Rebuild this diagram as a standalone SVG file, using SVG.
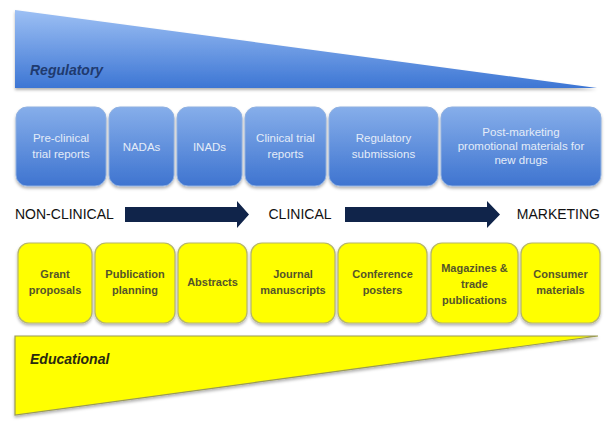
<svg xmlns="http://www.w3.org/2000/svg" width="605" height="423" viewBox="0 0 605 423">
<style>
.bbox{fill:url(#gb);stroke:#8fb0e0;stroke-width:1;filter:url(#sh)}
.ybox{fill:#ffff00;stroke:#b5b56a;stroke-width:1.2;filter:url(#sh)}
.bt{font-family:"Liberation Sans",Arial,sans-serif;font-size:11.5px;fill:#e4ecf8;text-anchor:middle}
.yt{font-family:"Liberation Sans",Arial,sans-serif;font-size:11px;font-weight:bold;fill:#55552a;text-anchor:middle}
.st{font-family:"Liberation Sans",Arial,sans-serif;font-size:14px;fill:#111}
.tt{font-family:"Liberation Sans",Arial,sans-serif;font-size:14px;font-weight:bold;font-style:italic}
.arr{fill:#10244a}
</style>
<defs>
<linearGradient id="gt" x1="0" y1="0" x2="0" y2="1">
<stop offset="0" stop-color="#9dc0f4"/><stop offset="1" stop-color="#3d76d4"/>
</linearGradient>
<linearGradient id="gb" x1="0" y1="0" x2="0" y2="1">
<stop offset="0" stop-color="#86aeea"/><stop offset="1" stop-color="#3e74d0"/>
</linearGradient>
<filter id="sh" x="-10%" y="-10%" width="120%" height="130%">
<feDropShadow dx="0" dy="2" stdDeviation="1.5" flood-color="#000" flood-opacity="0.3"/>
</filter>
</defs>
<rect width="605" height="423" fill="#fff"/>
<g id="regulatory">
<polygon points="15,10 597,88 15,88" fill="url(#gt)" filter="url(#sh)"/>
<text class="tt" x="30" y="75" fill="#1f3a6e">Regulatory</text>
</g>
<g id="educational">
<polygon points="15,336 598,336 15,415" fill="#ffff00" stroke="#9a9a55" stroke-width="1.2" filter="url(#sh)"/>
<text class="tt" x="30" y="364" fill="#2a2a10">Educational</text>
</g>
<g id="b1"><rect class="bbox" x="16" y="107" width="90" height="79" rx="11"/><text class="bt" x="61" y="142">Pre-clinical</text><text class="bt" x="61" y="158">trial reports</text></g>
<g id="b2"><rect class="bbox" x="109" y="107" width="65" height="79" rx="11"/><text class="bt" x="141.5" y="151">NADAs</text></g>
<g id="b3"><rect class="bbox" x="177" y="107" width="65" height="79" rx="11"/><text class="bt" x="209.5" y="151">INADs</text></g>
<g id="b4"><rect class="bbox" x="245" y="107" width="81" height="79" rx="11"/><text class="bt" x="285.5" y="142">Clinical trial</text><text class="bt" x="285.5" y="158">reports</text></g>
<g id="b5"><rect class="bbox" x="329" y="107" width="109" height="79" rx="11"/><text class="bt" x="383.5" y="142">Regulatory</text><text class="bt" x="383.5" y="158">submissions</text></g>
<g id="b6"><rect class="bbox" x="441" y="107" width="160" height="79" rx="11"/><text class="bt" x="521" y="136">Post-marketing</text><text class="bt" x="521" y="150">promotional materials for</text><text class="bt" x="521" y="164">new drugs</text></g>
<g id="stages">
<text class="st" x="15" y="219">NON-CLINICAL</text>
<text class="st" x="300" y="219" text-anchor="middle">CLINICAL</text>
<text class="st" x="600" y="219" text-anchor="end">MARKETING</text>
</g>
<g id="connectors">
<polygon class="arr" points="125,207 237,207 237,201 249,214.5 237,228 237,222 125,222"/>
<polygon class="arr" points="345,207 487,207 487,201 500,214.5 487,228 487,222 345,222"/>
</g>
<g id="y1"><rect class="ybox" x="18" y="243" width="74" height="80" rx="11"/><text class="yt" x="55" y="278">Grant</text><text class="yt" x="55" y="294">proposals</text></g>
<g id="y2"><rect class="ybox" x="95" y="243" width="80" height="80" rx="11"/><text class="yt" x="135" y="278">Publication</text><text class="yt" x="135" y="294">planning</text></g>
<g id="y3"><rect class="ybox" x="178" y="243" width="69" height="80" rx="11"/><text class="yt" x="212.5" y="286">Abstracts</text></g>
<g id="y4"><rect class="ybox" x="251" y="243" width="84" height="80" rx="11"/><text class="yt" x="293" y="278">Journal</text><text class="yt" x="293" y="294">manuscripts</text></g>
<g id="y5"><rect class="ybox" x="338" y="243" width="89" height="80" rx="11"/><text class="yt" x="382.5" y="278">Conference</text><text class="yt" x="382.5" y="294">posters</text></g>
<g id="y6"><rect class="ybox" x="431" y="243" width="87" height="80" rx="11"/><text class="yt" x="474.5" y="272">Magazines &amp;</text><text class="yt" x="474.5" y="288">trade</text><text class="yt" x="474.5" y="304">publications</text></g>
<g id="y7"><rect class="ybox" x="521" y="243" width="79" height="80" rx="11"/><text class="yt" x="560.5" y="278">Consumer</text><text class="yt" x="560.5" y="294">materials</text></g>
</svg>
